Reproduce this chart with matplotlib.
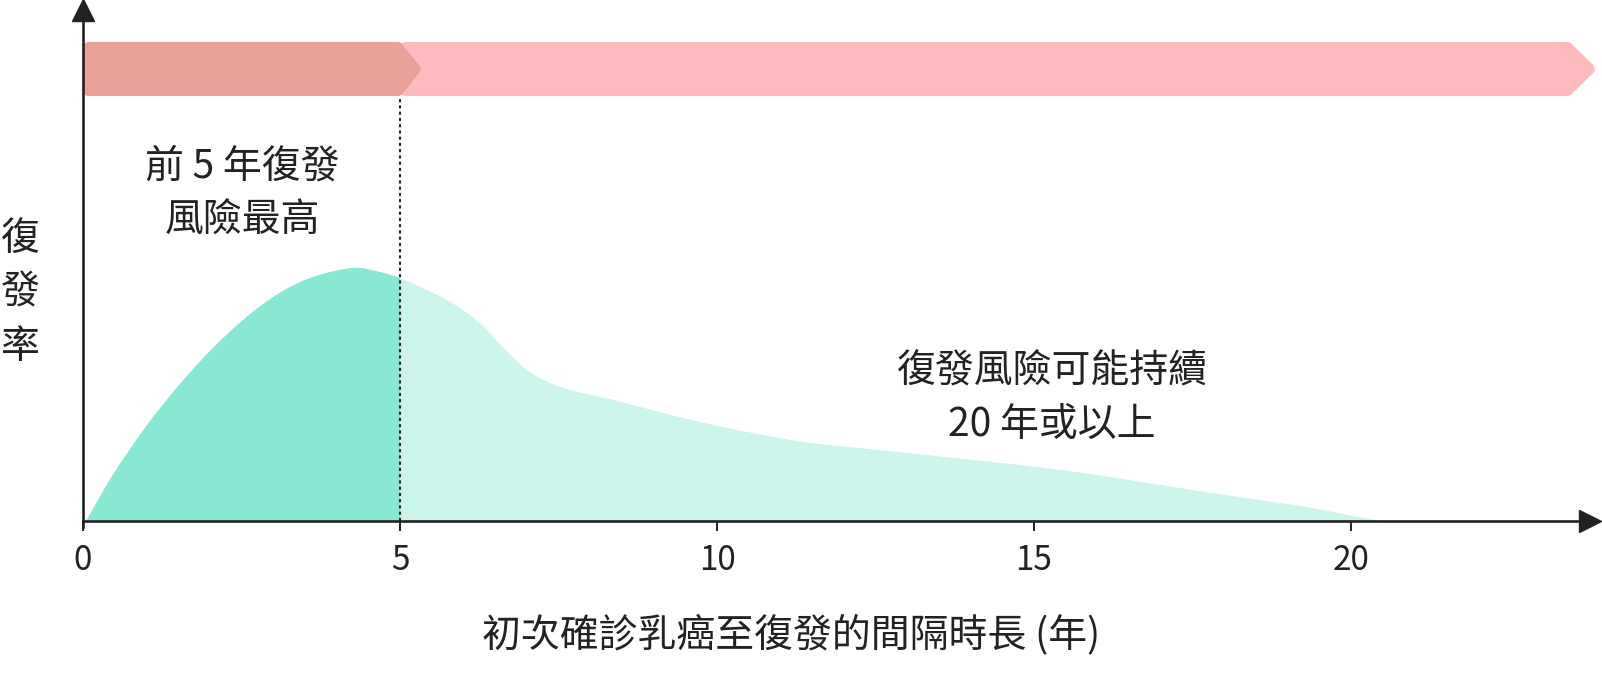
import numpy as np
import matplotlib.pyplot as plt
from matplotlib.patches import Polygon, PathPatch
from matplotlib.path import Path

plt.rcParams['font.family'] = ['Noto Sans CJK TC', 'DejaVu Sans']

# recurrence rate curve (arbitrary units)
years = [0.05, 0.48, 1.0, 1.53, 2.05, 2.58, 3.1, 3.63, 4.26, 4.68, 5.0,
         5.74, 6.26, 6.63, 7.05, 7.58, 8.37, 9.15, 9.94, 10.73, 11.26, 11.78,
         13.3, 15.43, 17.5, 18.88, 19.3, 19.95, 20.3, 20.52]
rate = [0, 47, 95, 137, 173, 204, 228, 244, 253, 249, 243,
        221, 198, 173, 149, 133, 121, 108, 96, 86, 80, 76,
        66, 51, 31, 18, 14, 6, 2, 0]

split_year = 5
xticks = [0, 5, 10, 15, 20]
# banner spans: (start, end of body, arrow tip) in years
banner_early = (0, 5.05, 5.36)
banner_late = (5.0, 23.5, 23.88)

title_early = "前 5 年復發\n風險最高"
title_late = "復發風險可能持續\n20 年或以上"
ylabel = "復\n發\n率"
xlabel = "初次確診乳癌至復發的間隔時長 (年)"

ink = "#222222"
teal_dark = "#88E8D4"
teal_light = "#CCF5EC"
pink_dark = "#E8A098"
pink_light = "#FDBBBE"

W, H = 1602, 682
x0_px, y0_px = 83, 521
px_per_year = 63.4
xmax = (1600 - x0_px) / px_per_year

fig = plt.figure(figsize=(W / 100, H / 100), dpi=100)
ax = fig.add_axes([x0_px / W, (H - y0_px) / H, (1600 - x0_px) / W, y0_px / H])
ax.set_xlim(0, xmax)
ax.set_ylim(0, y0_px)
for s in ax.spines.values():
    s.set_visible(False)


def smooth_area(xs, ys, color, z):
    # smooth outline through the read points (Catmull-Rom as cubic Bezier)
    pts = list(zip(xs, ys))
    verts = [(xs[0], 0), pts[0]]
    codes = [Path.MOVETO, Path.LINETO]
    n = len(pts)
    for i in range(n - 1):
        p0 = pts[max(i - 1, 0)]
        p1 = pts[i]
        p2 = pts[i + 1]
        p3 = pts[min(i + 2, n - 1)]
        c1 = (p1[0] + (p2[0] - p0[0]) / 6, p1[1] + (p2[1] - p0[1]) / 6)
        c2 = (p2[0] - (p3[0] - p1[0]) / 6, p2[1] - (p3[1] - p1[1]) / 6)
        verts += [c1, c2, p2]
        codes += [Path.CURVE4] * 3
    verts += [(xs[-1], 0), (xs[0], 0)]
    codes += [Path.LINETO, Path.CLOSEPOLY]
    ax.add_patch(PathPatch(Path(verts, codes), fc=color, lw=0, zorder=z))


k = years.index(split_year)
# full curve in light teal, first five years drawn over it in dark teal
smooth_area(years, rate, teal_light, 1)
smooth_area(years[:k + 1], rate[:k + 1], teal_dark, 2)


def banner(span, color, z):
    a, b, tip = span
    s_x = 5.5 / px_per_year
    s_y = 5.5
    ylo, yhi = 521 - 96, 521 - 42
    ym = (ylo + yhi) / 2
    pts = [(a + s_x, ylo + s_y), (b - s_x, ylo + s_y),
           (tip - 1.4 * s_x, ym), (b - s_x, yhi - s_y), (a + s_x, yhi - s_y)]
    ax.add_patch(Polygon(pts, closed=True, fc=color, ec=color, lw=8,
                         joinstyle='round', zorder=z, clip_on=False))


banner(banner_late, pink_light, 3)
banner(banner_early, pink_dark, 4)

# dotted divider at year 5
ax.plot([split_year, split_year], [0, 521 - 96], color=ink, lw=1.5,
        ls=(0, (1.5, 1.5)), zorder=5)

# axes with arrows
ax.plot([0, 0], [-6, y0_px - 10], color=ink, lw=1.9, clip_on=False, zorder=6)
ax.plot([0, xmax - 0.2], [0, 0], color=ink, lw=1.9, clip_on=False, zorder=6)
ax.plot([0], [y0_px - 10], marker='^', ms=16, color=ink, clip_on=False, zorder=6)
ax.plot([xmax - 0.15], [0], marker='>', ms=16, color=ink, clip_on=False, zorder=6)

ax.set_xticks(xticks)
ax.set_xticklabels([str(t) for t in xticks], fontsize=24, color=ink)
ax.tick_params(axis='x', length=7, width=1.4, color=ink, pad=9)
ax.set_yticks([])

ax.text((242 - x0_px) / px_per_year, y0_px - 194, title_early, fontsize=28,
        color=ink, ha='center', va='center', linespacing=1.45)
ax.text((1052 - x0_px) / px_per_year, y0_px - 398, title_late, fontsize=28,
        color=ink, ha='center', va='center', linespacing=1.45)

fig.text(20 / W, 1 - 293 / H, ylabel, fontsize=28, color=ink,
         ha='center', va='center', linespacing=1.45)
fig.text(791 / W, 1 - 635 / H, xlabel, fontsize=28, color=ink,
         ha='center', va='center')

fig.savefig("out.png", dpi=100)
